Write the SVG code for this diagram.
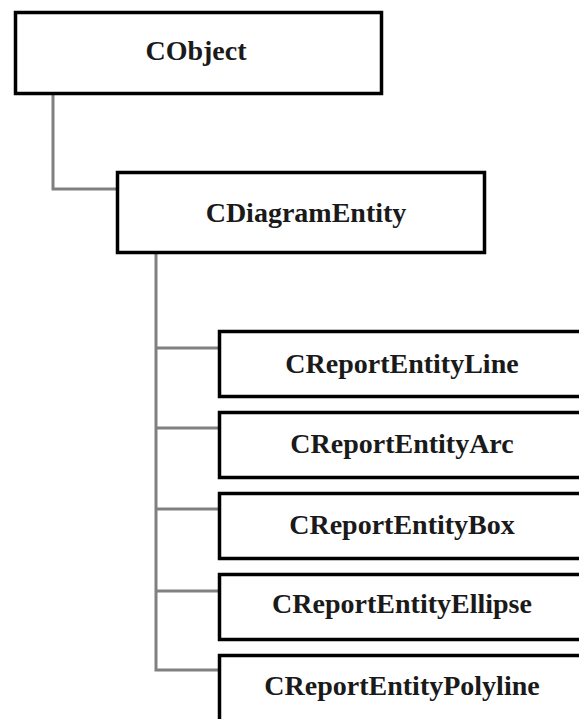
<svg xmlns="http://www.w3.org/2000/svg" width="579" height="719" viewBox="0 0 579 719">
<style>
.box{fill:#fff;stroke:#000;stroke-width:3.5}
.lbl{font-family:"Liberation Serif","Times New Roman",serif;font-weight:bold;font-size:28px;fill:#1a1a1a;text-anchor:middle}
.con{fill:none;stroke:#808080;stroke-width:3}
</style>
<rect width="579" height="719" fill="#fff"/>
<g id="connectors">
<path class="con" d="M53 95 V189 H116"/>
<path class="con" d="M156 254 V670 H218"/>
<path class="con" d="M156 348 H218 M156 428 H218 M156 509 H218 M156 591 H218"/>
</g>
<g id="CObject">
<rect class="box" x="15.5" y="12.5" width="366" height="81"/>
<text class="lbl" x="196" y="60">CObject</text>
</g>
<g id="CDiagramEntity">
<rect class="box" x="117.5" y="172.5" width="367" height="80"/>
<text class="lbl" x="306" y="222">CDiagramEntity</text>
</g>
<g id="CReportEntityLine">
<rect class="box" x="219.5" y="331.5" width="380" height="65"/>
<text class="lbl" x="402" y="373">CReportEntityLine</text>
</g>
<g id="CReportEntityArc">
<rect class="box" x="219.5" y="412.5" width="380" height="65"/>
<text class="lbl" x="402" y="453">CReportEntityArc</text>
</g>
<g id="CReportEntityBox">
<rect class="box" x="219.5" y="493.5" width="380" height="65"/>
<text class="lbl" x="402" y="534">CReportEntityBox</text>
</g>
<g id="CReportEntityEllipse">
<rect class="box" x="219.5" y="574.5" width="380" height="65"/>
<text class="lbl" x="402" y="613">CReportEntityEllipse</text>
</g>
<g id="CReportEntityPolyline">
<rect class="box" x="219.5" y="655.5" width="380" height="80"/>
<text class="lbl" x="402" y="695">CReportEntityPolyline</text>
</g>
</svg>
